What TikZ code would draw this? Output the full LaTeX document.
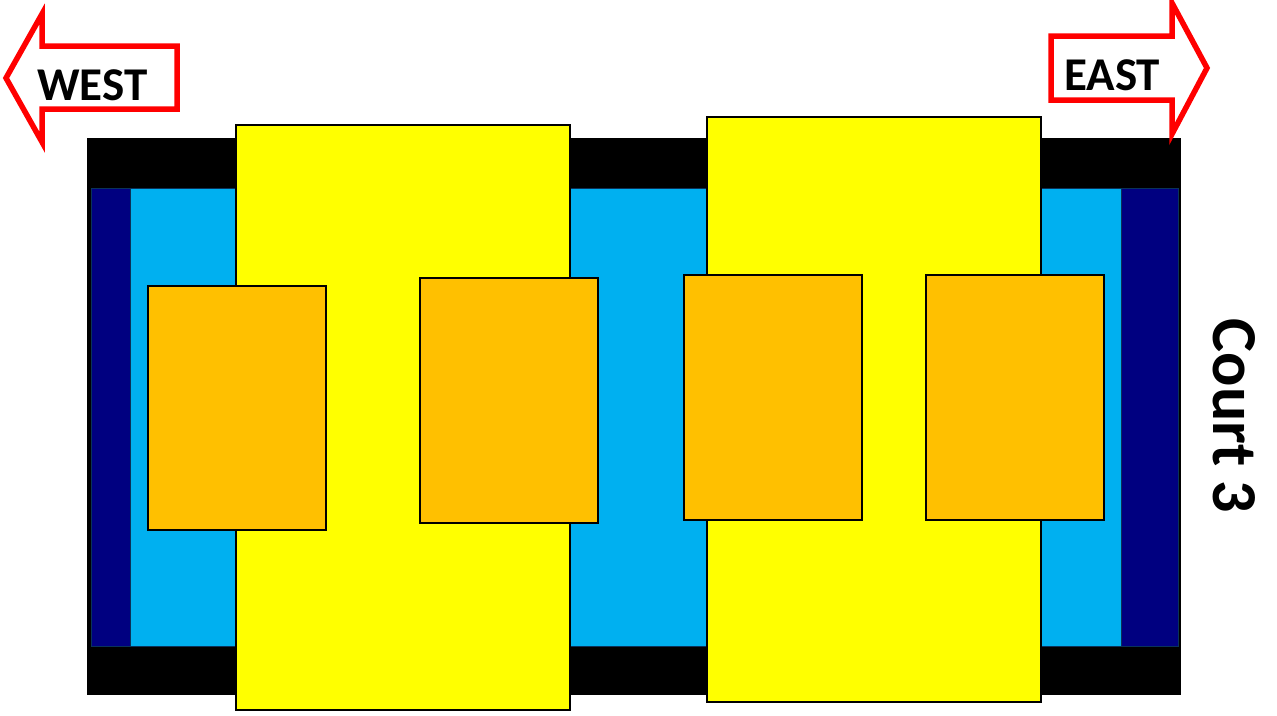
\documentclass[tikz,border=0pt]{standalone}
\usepackage{fontspec}
\setmainfont{Carlito}
\usetikzlibrary{positioning}
\definecolor{CTnavy}{RGB}{0,0,128}
\definecolor{CTsky}{RGB}{0,176,240}
\definecolor{CTyellow}{RGB}{255,255,0}
\definecolor{CTorange}{RGB}{255,192,0}
\definecolor{CTred}{RGB}{255,0,0}
\definecolor{CTedge}{RGB}{10,50,90}
\tikzset{
  surround/.style={fill=black,draw=none},
  floor/.style={fill=CTsky,draw=CTedge,line width=1pt},
  endzone/.style={fill=CTnavy,draw=CTedge,line width=1pt},
  mat/.style={fill=CTyellow,draw=black,line width=2pt},
  pad/.style={fill=CTorange,draw=black,line width=2pt},
  compass/.style={draw=CTred,line width=5.5pt,line join=miter,fill=white},
  dirlabel/.style={font=\fontsize{47}{50}\selectfont\bfseries,inner sep=0pt},
  courtlabel/.style={font=\fontsize{64}{70}\selectfont\bfseries,inner sep=0pt,rotate=-90}
}
\begin{document}
\begin{tikzpicture}[x=1pt,y=-1pt]
  \useasboundingbox (0,0) rectangle (1277,715);
  % court base
  \fill[surround] (87,138) rectangle (1181,695);
  \draw[floor] (91,188) rectangle (1178,646);
  \draw[endzone] (91,188) rectangle (130,646);
  \draw[endzone] (1121,188) rectangle (1178,646);
  % mats
  \draw[mat] (236,125) rectangle (570,710);
  \draw[mat] (707,117) rectangle (1041,702);
  % pads
  \draw[pad] (148,286) rectangle (326,530);
  \draw[pad] (420,278) rectangle (598,523);
  \draw[pad] (684,275) rectangle (862,520);
  \draw[pad] (926,275) rectangle (1104,520);
  % compass arrows
  \draw[compass] (6,78) -- (42,14) -- (42,46) -- (177,46) -- (177,109) -- (42,109) -- (42,142) -- cycle;
  \draw[compass] (1207,68) -- (1172,3) -- (1172,36) -- (1051,36) -- (1051,100) -- (1172,100) -- (1172,134) -- cycle;
  \node[dirlabel,anchor=south west] (west) at (37,101) {WEST};
  \node[dirlabel,anchor=south west] (east) at (1064,91) {EAST};
  \node[courtlabel] (court) at (1234,416) {Court 3};
\end{tikzpicture}
\end{document}
